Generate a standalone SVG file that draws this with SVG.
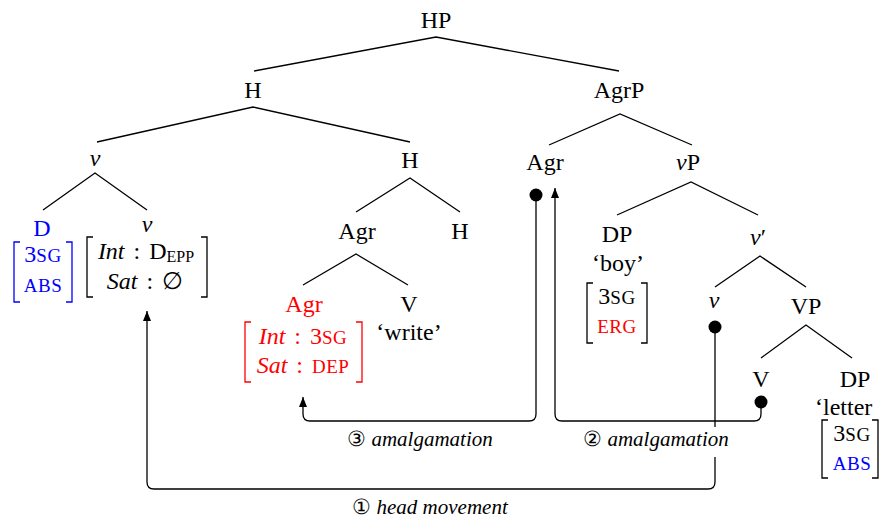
<svg xmlns="http://www.w3.org/2000/svg" width="881" height="521" viewBox="0 0 881 521">
<style>
text{font-family:"Liberation Serif","DejaVu Serif",serif;font-size:24px;fill:#000;text-anchor:middle}
.i{font-style:italic}
.f{word-spacing:3px}
.sc{font-size:19px;font-style:normal;letter-spacing:0.5px}
.sub{font-size:16px;font-style:normal}
.blue{fill:#0000ff}
.red{fill:#ff0000}
.edge{stroke:#000;stroke-width:1.3;fill:none}
.br{fill:none;stroke:#000;stroke-width:1.3}
.br.blue{stroke:#0000ff;fill:none}
.br.red{stroke:#ff0000;fill:none}
.con{stroke:#000;stroke-width:1.3;fill:none}
.lbl{font-size:21px}
</style>
<defs>
<marker id="ah" viewBox="0 0 10 8" refX="10" refY="4" markerWidth="10" markerHeight="8" orient="auto" markerUnits="userSpaceOnUse"><path d="M0,0 L10,4 L0,8 z" fill="#000"/></marker>
</defs>

<g id="edges">
<path class="edge" d="M254,71 L436,37 L619,71"/>
<path class="edge" d="M97,142 L253,107 L410,142"/>
<path class="edge" d="M549,145 L620,114 L692,145"/>
<path class="edge" d="M43,210 L95,173 L147,210"/>
<path class="edge" d="M356,212 L410,178 L460,212"/>
<path class="edge" d="M617,215 L691,182 L758,215"/>
<path class="edge" d="M303,285 L356,254 L408,285"/>
<path class="edge" d="M715,287 L760,256 L806,287"/>
<path class="edge" d="M761,358 L806,325 L852,358"/>
</g>

<g id="n-HP"><text x="436" y="28">HP</text></g>
<g id="n-H1"><text x="253" y="98">H</text></g>
<g id="n-AgrP"><text x="619" y="98">AgrP</text></g>
<g id="n-v1"><text class="i" x="95" y="166">v</text></g>
<g id="n-H2"><text x="410" y="168">H</text></g>
<g id="n-Agr1"><text x="545" y="170">Agr</text></g>
<g id="n-vP"><text x="688" y="170"><tspan class="i">v</tspan>P</text></g>

<g id="n-D">
<text class="blue" x="42" y="236">D</text>
<path class="br blue" d="M20,242 H14 V302 H20 M66,242 H72 V302 H66"/>
<text class="blue" x="43" y="262">3<tspan class="sc">SG</tspan></text>
<text class="blue sc" x="43" y="292">ABS</text>
</g>

<g id="n-v2">
<text class="i" x="147" y="232">v</text>
<path class="br" d="M93,237 H87 V297 H93 M201,237 H207 V297 H201"/>
<text class="f" x="146" y="259"><tspan class="i">Int</tspan> : D<tspan class="sub" dy="3">EPP</tspan></text>
<text class="f" x="145" y="289"><tspan class="i">Sat</tspan> : ∅</text>
</g>

<g id="n-Agr2"><text x="357" y="239">Agr</text></g>
<g id="n-H3"><text x="460" y="239">H</text></g>

<g id="n-Agr3">
<text class="red" x="304" y="312">Agr</text>
<path class="br red" d="M251,322 H245 V382 H251 M356,322 H362 V382 H356"/>
<text class="red f" x="303" y="344"><tspan class="i">Int</tspan> : 3<tspan class="sc">SG</tspan></text>
<text class="red f" x="303" y="373"><tspan class="i">Sat</tspan> : <tspan class="sc">DEP</tspan></text>
</g>

<g id="n-V1">
<text x="409" y="312">V</text>
<text x="409" y="340">‘write’</text>
</g>

<g id="n-DP1">
<text x="617" y="242">DP</text>
<text x="618" y="271">‘boy’</text>
<path class="br" d="M593,283 H587 V343 H593 M641,283 H647 V343 H641"/>
<text x="617" y="304">3<tspan class="sc">SG</tspan></text>
<text class="red sc" x="617" y="333">ERG</text>
</g>

<g id="n-vbar"><text x="758" y="245"><tspan class="i">v</tspan>′</text></g>
<g id="n-v3"><text class="i" x="714" y="308">v</text></g>
<g id="n-VP"><text x="806" y="314">VP</text></g>
<g id="n-V2"><text x="761" y="387">V</text></g>

<g id="n-DP2">
<text x="855" y="387">DP</text>
<text x="815" y="415" style="text-anchor:start">‘letter</text>
<path class="br" d="M828,420 H822 V478 H828 M872,420 H878 V478 H872"/>
<text x="852" y="441">3<tspan class="sc">SG</tspan></text>
<text class="blue sc" x="852" y="470">ABS</text>
</g>

<g id="connectors">
<path class="con" d="M715,327 V482 Q715,489 708,489 H154 Q147,489 147,482 V311" marker-end="url(#ah)"/>
<path class="con" d="M761,402 V414 Q761,421 754,421 H562 Q555,421 555,414 V188" marker-end="url(#ah)"/>
<path class="con" d="M536,195 V414 Q536,421 529,421 H310 Q303,421 303,414 V397" marker-end="url(#ah)"/>
<circle cx="536" cy="195" r="6.5" fill="#000"/>
<circle cx="715" cy="327" r="6.5" fill="#000"/>
<circle cx="761" cy="402" r="6.5" fill="#000"/>
<rect x="574" y="427" width="166" height="30" fill="#fff"/>
<text class="lbl" x="420" y="446">③ <tspan class="i">amalgamation</tspan></text>
<text class="lbl" x="656" y="446">② <tspan class="i">amalgamation</tspan></text>
<text class="lbl" x="430" y="514">① <tspan class="i">head movement</tspan></text>
</g>
</svg>
